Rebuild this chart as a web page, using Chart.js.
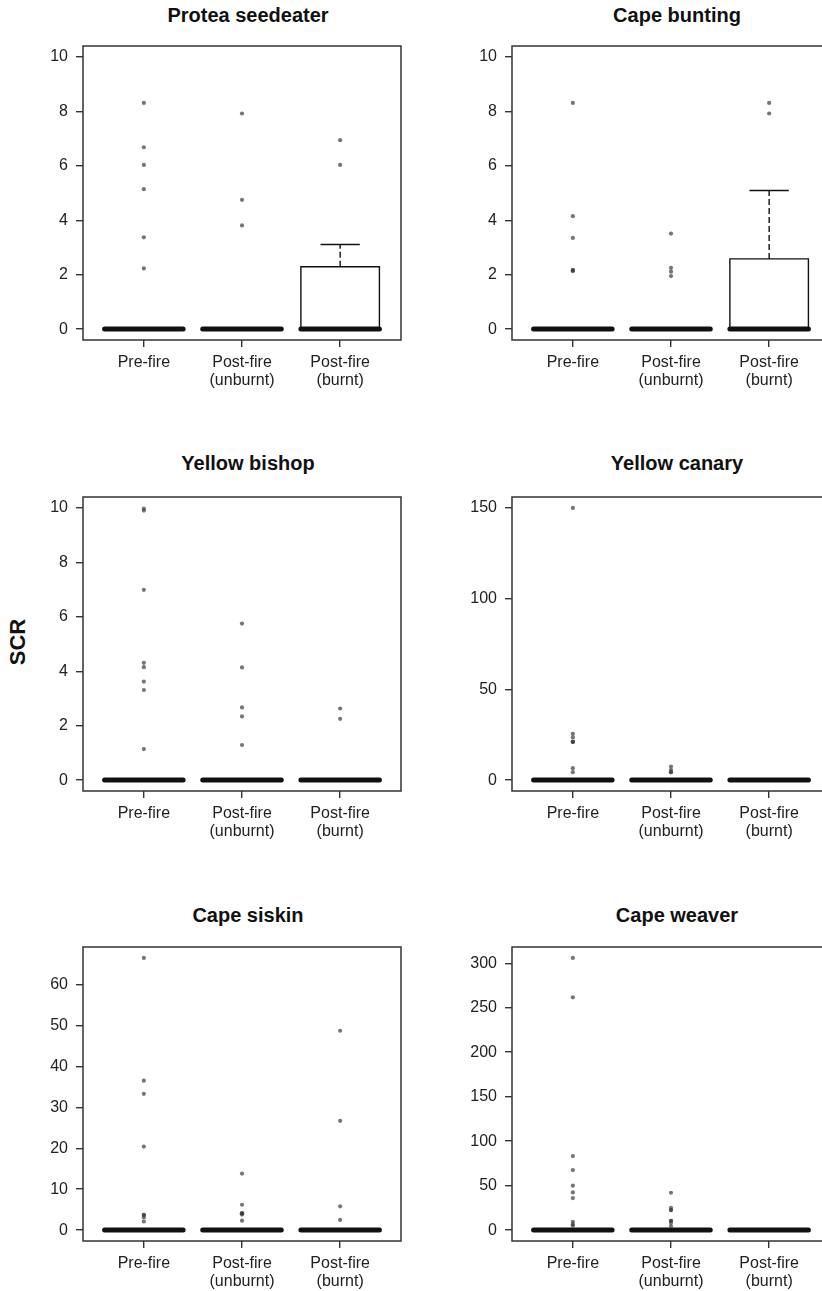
<!DOCTYPE html>
<html>
<head>
<meta charset="utf-8">
<script src="https://cdn.jsdelivr.net/npm/chart.js@4.4.1/dist/chart.umd.min.js"></script>
<style>
  body { margin: 0; width: 822px; height: 1291px; overflow: hidden; position: relative; background: #fff; font-family: "Liberation Sans", Arial, sans-serif; }
  canvas { position: absolute; }
  .title { position: absolute; width: 300px; margin-left: -150px; text-align: center; font-weight: bold; font-size: 20px; line-height: 22px; color: #111; }
  #ylab { position: absolute; left: 18px; top: 642px; transform: translate(-50%, -50%) rotate(-90deg); font-weight: bold; font-size: 22px; color: #111; }
</style>
</head>
<body>
<div id="ylab">SCR</div>
<script>
const groupLabels = [["Pre-fire"], ["Post-fire", "(unburnt)"], ["Post-fire", "(burnt)"]];
const speciesNames = ["Protea seedeater", "Cape bunting", "Yellow bishop", "Yellow canary", "Cape siskin", "Cape weaver"];

// box stats per group: [lower whisker, q1, median, q3, upper whisker]
const proteaBox = [[0, 0, 0, 0, 0], [0, 0, 0, 0, 0], [0, 0, 0, 2.29, 3.11]];
const buntingBox = [[0, 0, 0, 0, 0], [0, 0, 0, 0, 0], [0, 0, 0, 2.58, 5.09]];
const bishopBox = [[0, 0, 0, 0, 0], [0, 0, 0, 0, 0], [0, 0, 0, 0, 0]];
const canaryBox = [[0, 0, 0, 0, 0], [0, 0, 0, 0, 0], [0, 0, 0, 0, 0]];
const siskinBox = [[0, 0, 0, 0, 0], [0, 0, 0, 0, 0], [0, 0, 0, 0, 0]];
const weaverBox = [[0, 0, 0, 0, 0], [0, 0, 0, 0, 0], [0, 0, 0, 0, 0]];

// outliers per group
const proteaOut = [[8.31, 6.68, 6.03, 5.14, 3.37, 2.23], [7.92, 4.75, 3.81], [6.94, 6.03]];
const buntingOut = [[8.31, 4.15, 3.35, 2.17, 2.17, 2.13], [3.51, 2.25, 2.11, 1.95], [8.31, 7.92]];
const bishopOut = [[9.97, 9.9, 6.99, 4.31, 4.15, 3.62, 3.31, 1.14], [5.75, 4.14, 2.67, 2.34, 1.29], [2.63, 2.25]];
const canaryOut = [[150, 25.5, 23.5, 21.1, 21.1, 21.1, 6.6, 4.4], [7.5, 5.7, 4.4, 4.4], []];
const siskinOut = [[66.5, 36.5, 33.3, 20.4, 3.7, 3.7, 3.1, 2.1], [13.8, 6.2, 4.1, 4.1, 4.1, 3.8, 2.3], [48.7, 26.7, 5.8, 2.5]];
const weaverOut = [[306, 261.7, 83.2, 67.5, 49.9, 42.4, 36, 9.4, 6.7, 4.9], [42, 25.1, 22.5, 22.5, 10.5, 10.5, 8.2, 4.5], []];

// y axis limits and tick labels
const proteaLim = [-0.4, 10.4];
const buntingLim = [-0.4, 10.4];
const bishopLim = [-0.4, 10.4];
const canaryLim = [-6, 156];
const siskinLim = [-2.66, 69.16];
const weaverLim = [-12.24, 318.24];
const tenTicks = [0, 2, 4, 6, 8, 10];
const canaryTicks = [0, 50, 100, 150];
const siskinTicks = [0, 10, 20, 30, 40, 50, 60];
const weaverTicks = [0, 50, 100, 150, 200, 250, 300];

const panels = [
  { box: proteaBox, out: proteaOut, lim: proteaLim, ticks: tenTicks },
  { box: buntingBox, out: buntingOut, lim: buntingLim, ticks: tenTicks },
  { box: bishopBox, out: bishopOut, lim: bishopLim, ticks: tenTicks },
  { box: canaryBox, out: canaryOut, lim: canaryLim, ticks: canaryTicks },
  { box: siskinBox, out: siskinOut, lim: siskinLim, ticks: siskinTicks },
  { box: weaverBox, out: weaverOut, lim: weaverLim, ticks: weaverTicks },
];

// layout of the grid
const boxTops = [46, 497, 947];
const titleTops = [4, 452, 904];
const titleCenters = [248, 677];

Chart.defaults.font.family = '"Liberation Sans", Arial, sans-serif';
Chart.defaults.font.size = 16;
Chart.defaults.color = "#222";

const ink = "#333";

// frame round the plot region
const frame = {
  id: "frame",
  afterDraw(chart) {
    let a = chart.chartArea;
    let ctx = chart.ctx;
    ctx.save();
    ctx.strokeStyle = ink;
    ctx.lineWidth = 1.5;
    ctx.strokeRect(a.left, a.top, a.right - a.left, a.bottom - a.top);
    ctx.restore();
  },
};

function seg(points, width, dash, order) {
  return {
    type: "line",
    data: points,
    showLine: true,
    borderColor: "#111",
    borderWidth: width,
    borderDash: dash,
    borderCapStyle: width > 3 ? "round" : "butt",
    pointRadius: 0,
    fill: false,
    order: order,
  };
}

function buildDatasets(box, out) {
  let sets = [];
  box.forEach(function (b, i) {
    let x = i + 1;
    let lw = b[0], q1 = b[1], med = b[2], q3 = b[3], uw = b[4];
    sets.push(seg([{ x: x - 0.4, y: q1 }, { x: x + 0.4, y: q1 }, { x: x + 0.4, y: q3 }, { x: x - 0.4, y: q3 }, { x: x - 0.4, y: q1 }], 1.4, [], 3));
    if (uw > q3) {
      sets.push(seg([{ x: x, y: q3 }, { x: x, y: uw }], 1.4, [6, 3], 3));
      sets.push(seg([{ x: x - 0.2, y: uw }, { x: x + 0.2, y: uw }], 1.4, [], 3));
    }
    if (lw < q1) {
      sets.push(seg([{ x: x, y: q1 }, { x: x, y: lw }], 1.4, [6, 3], 3));
      sets.push(seg([{ x: x - 0.2, y: lw }, { x: x + 0.2, y: lw }], 1.4, [], 3));
    }
    sets.push(seg([{ x: x - 0.4, y: med }, { x: x + 0.4, y: med }], 5, [], 1));
  });
  let pts = [];
  out.forEach(function (vals, i) {
    vals.forEach(function (v) {
      pts.push({ x: i + 1, y: v });
    });
  });
  sets.push({
    type: "scatter",
    data: pts,
    pointRadius: 2.1,
    pointBorderWidth: 0,
    pointBackgroundColor: "rgba(60,60,60,0.7)",
    order: 0,
  });
  return sets;
}

panels.forEach(function (p, k) {
  let row = Math.floor(k / 2);
  let col = k % 2;
  let canvas = document.createElement("canvas");
  let left = col == 0 ? 0 : 411;
  let width = col == 0 ? 411 : 430;
  canvas.width = width;
  canvas.height = 364;
  canvas.style.left = left + "px";
  canvas.style.top = boxTops[row] - 10 + "px";
  canvas.style.width = width + "px";
  canvas.style.height = "364px";
  document.body.appendChild(canvas);

  let title = document.createElement("div");
  title.className = "title";
  title.textContent = speciesNames[k];
  title.style.left = titleCenters[col] + "px";
  title.style.top = titleTops[row] + "px";
  document.body.appendChild(title);

  new Chart(canvas, {
    type: "scatter",
    data: { datasets: buildDatasets(p.box, p.out) },
    plugins: [frame],
    options: {
      responsive: false,
      animation: false,
      layout: { padding: { top: 10, right: col == 0 ? 10 : 11, left: 0, bottom: 0 } },
      plugins: { legend: { display: false }, tooltip: { enabled: false } },
      scales: {
        x: {
          type: "linear",
          min: 0.38,
          max: 3.62,
          afterBuildTicks: function (s) {
            s.ticks = groupLabels.map(function (l, i) { return { value: i + 1 }; });
          },
          afterFit: function (s) {
            s.height = 60;
            s.paddingLeft = 0;
            s.paddingRight = 0;
          },
          ticks: {
            autoSkip: false,
            maxRotation: 0,
            padding: 6,
            color: "#222",
            font: { lineHeight: 1.15 },
            callback: function (v) { return groupLabels[v - 1]; },
          },
          grid: { drawOnChartArea: false, drawTicks: true, tickLength: 7, color: ink, lineWidth: 1.4 },
          border: { display: false },
        },
        y: {
          min: p.lim[0],
          max: p.lim[1],
          afterBuildTicks: function (s) {
            s.ticks = p.ticks.map(function (v) { return { value: v }; });
          },
          afterFit: function (s) {
            s.width = col == 0 ? 83 : 101;
            s.paddingTop = 0;
            s.paddingBottom = 0;
          },
          ticks: { padding: 8, color: "#222" },
          grid: { drawOnChartArea: false, drawTicks: true, tickLength: 7, color: ink, lineWidth: 1.4 },
          border: { display: false },
        },
      },
    },
  });
});
</script>
</body>
</html>
